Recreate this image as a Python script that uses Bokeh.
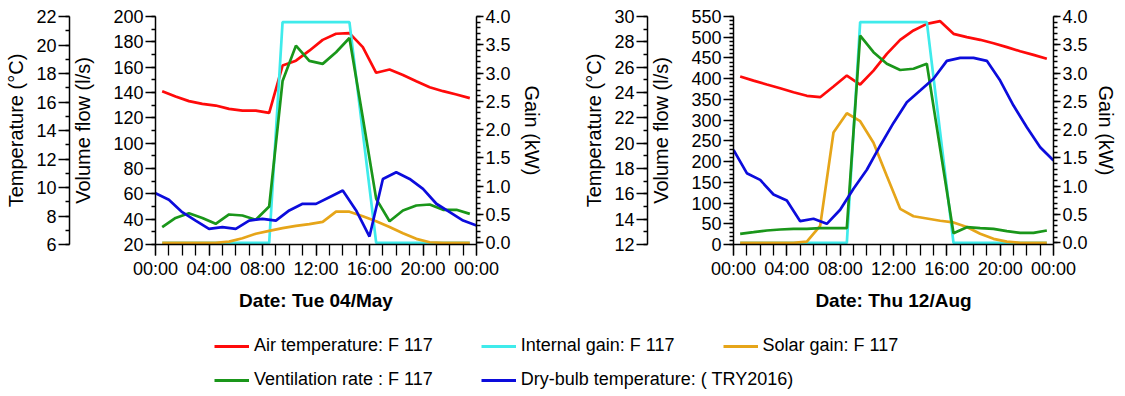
from bokeh.plotting import figure
from bokeh.models import (Range1d, LinearAxis, FixedTicker, Legend, LegendItem, Title,
                          NumeralTickFormatter)
from bokeh.layouts import column, row
from bokeh.embed import file_html
from bokeh.resources import INLINE

# ---------------- data ----------------
HOURS_HALF = [0.5, 1.5, 2.5, 3.5, 4.5, 5.5, 6.5, 7.5, 8.5, 9.5, 10.5, 11.5,
              12.5, 13.5, 14.5, 15.5, 16.5, 17.5, 18.5, 19.5, 20.5, 21.5, 22.5, 23.5]
HOURS_FULL = [0, 1, 2, 3, 4, 5, 6, 7, 8, 9, 10, 11, 12,
              13, 14, 15, 16, 17, 18, 19, 20, 21, 22, 23, 24]
TIME_TICKS = [0, 4, 8, 12, 16, 20, 24]
TIME_MINOR = HOURS_FULL
TIME_LABELS = ["00:00", "04:00", "08:00", "12:00", "16:00", "20:00", "00:00"]

# Panel 1 : Tue 04/May
air_may = [16.76, 16.39, 16.06, 15.87, 15.75, 15.52, 15.40, 15.40, 15.24, 18.56, 18.90, 19.60,
           20.36, 20.79, 20.83, 19.85, 18.05, 18.28, 17.90, 17.46, 17.04, 16.76, 16.53, 16.27]
internal_may = [0, 0, 0, 0, 0, 0, 0, 0, 0, 3.9, 3.9, 3.9,
                3.9, 3.9, 3.9, 1.95, 0, 0, 0, 0, 0, 0, 0, 0]
solar_may = [0, 0, 0, 0, 0, 0.02, 0.08, 0.16, 0.21, 0.26, 0.30, 0.33,
             0.37, 0.55, 0.55, 0.47, 0.38, 0.28, 0.17, 0.07, 0.01, 0, 0, 0]
vent_may = [33.7, 41.0, 44.7, 41.0, 36.3, 43.7, 42.9, 39.5, 50.0, 149.0, 177.0, 165.0,
            162.6, 171.8, 183.0, 120.0, 56.0, 38.4, 46.8, 50.8, 51.6, 47.4, 47.4, 44.2]
drybulb_may = [9.60, 9.14, 8.27, 7.68, 7.10, 7.22, 7.10, 7.68, 7.80, 7.68, 8.39, 8.86, 8.85,
               9.32, 9.79, 8.39, 6.56, 10.60, 11.07, 10.60, 9.90, 8.86, 8.27, 7.68, 7.33]

# Panel 2 : Thu 12/Aug
air_aug = [25.26, 24.94, 24.63, 24.34, 24.02, 23.74, 23.63, 24.47, 25.34, 24.63, 25.73, 27.05,
           28.16, 28.90, 29.42, 29.63, 28.63, 28.37, 28.16, 27.89, 27.58, 27.26, 26.97, 26.66]
internal_aug = [0, 0, 0, 0, 0, 0, 0, 0, 0, 3.9, 3.9, 3.9,
                3.9, 3.9, 3.9, 1.95, 0, 0, 0, 0, 0, 0, 0, 0]
solar_aug = [0, 0, 0, 0, 0, 0.02, 0.30, 1.95, 2.29, 2.15, 1.77, 1.18,
             0.60, 0.47, 0.43, 0.39, 0.36, 0.28, 0.16, 0.07, 0.02, 0, 0, 0]
vent_aug = [25.8, 29.7, 33.8, 36.2, 37.8, 37.8, 39.4, 39.4, 39.4, 504.0, 464.0, 436.0,
            421.0, 424.0, 436.0, 231.0, 27.3, 41.8, 39.4, 37.8, 32.2, 28.2, 28.2, 33.8]
drybulb_aug = [19.47, 17.63, 17.10, 15.95, 15.47, 13.84, 14.03, 13.63, 14.74, 16.40, 17.90, 19.80, 21.60,
               23.23, 24.15, 25.08, 26.50, 26.73, 26.73, 26.50, 24.94, 22.97, 21.26, 19.68, 18.63]

SERIES_NAMES = ["Air temperature: F 117", "Internal gain: F 117", "Solar gain: F 117",
                "Ventilation rate : F 117", "Dry-bulb temperature: ( TRY2016)"]
COLORS = ["#FF0A0A", "#3FEBEB", "#E6A519", "#1A961A", "#0C0CDC"]

FONT = "Liberation Sans"
LW = 2.7


def style_axis(ax, tick_out, minor_out, label_size="18px"):
    ax.axis_line_color = "black"
    ax.axis_line_width = 1.5
    ax.major_tick_line_color = "black"
    ax.major_tick_line_width = 1.3
    ax.minor_tick_line_color = "black"
    ax.minor_tick_line_width = 1.3
    ax.major_tick_in = 0
    ax.minor_tick_in = 0
    ax.major_tick_out = tick_out
    ax.minor_tick_out = minor_out
    ax.major_label_text_font = FONT
    ax.major_label_text_font_size = label_size
    ax.major_label_text_color = "black"
    ax.axis_label_text_font = FONT
    ax.axis_label_text_font_size = "20px"
    ax.axis_label_text_font_style = "normal"
    ax.axis_label_text_color = "black"


def make_panel(date_text, temp_rng, vol_rng, temp_ticks, temp_minor, vol_ticks, vol_minor,
               air, internal, solar, vent, drybulb, fw, left_border, right_border, gain_standoff):
    p = figure(frame_width=fw, frame_height=228,
               x_range=Range1d(0, 24), y_range=Range1d(*vol_rng),
               output_backend="svg", toolbar_location=None,
               min_border_left=left_border, min_border_right=right_border,
               min_border_top=16, min_border_bottom=0)
    # gain range starts a hair below zero so zero-valued lines are not clipped by the frame
    p.extra_y_ranges = {"temp": Range1d(*temp_rng), "gain": Range1d(-0.03, 4.0)}
    p.xgrid.visible = False
    p.ygrid.visible = False
    p.outline_line_color = None
    p.background_fill_color = "white"
    p.border_fill_color = "white"

    # x axis
    xa = p.xaxis[0]
    xa.ticker = FixedTicker(ticks=TIME_TICKS, minor_ticks=TIME_MINOR)
    xa.major_label_overrides = {t: lab for t, lab in zip(TIME_TICKS, TIME_LABELS)}
    style_axis(xa, 11, 11)
    xa.major_label_standoff = 3

    # volume axis (inner left)
    va = p.yaxis[0]
    va.ticker = FixedTicker(ticks=vol_ticks, minor_ticks=vol_minor)
    va.axis_label = "Volume flow (l/s)"
    style_axis(va, 10, 4)
    va.major_label_standoff = 2
    va.axis_label_standoff = 16

    # temperature axis (outer left)
    ta = LinearAxis(y_range_name="temp", axis_label="Temperature (°C)",
                    ticker=FixedTicker(ticks=temp_ticks, minor_ticks=temp_minor))
    style_axis(ta, 11, 4)
    ta.major_label_standoff = 2
    ta.axis_label_standoff = 6
    p.add_layout(ta, "left")

    # gain axis (right)
    gain_ticks = [0, 0.5, 1.0, 1.5, 2.0, 2.5, 3.0, 3.5, 4.0]
    gain_minor = [i / 10 for i in range(41)]
    ga = LinearAxis(y_range_name="gain", axis_label="Gain (kW)",
                    ticker=FixedTicker(ticks=gain_ticks, minor_ticks=gain_minor),
                    formatter=NumeralTickFormatter(format="0.0"))
    style_axis(ga, 7, 4)
    ga.major_label_standoff = 2
    ga.axis_label_standoff = gain_standoff
    p.add_layout(ga, "right")

    p.add_layout(Title(text=date_text, align="center", offset=-6, text_font=FONT,
                       text_font_size="19px", text_font_style="bold", text_color="black",
                       standoff=12), "below")

    p.line(HOURS_HALF, air, color=COLORS[0], line_width=LW, y_range_name="temp")
    p.line(HOURS_HALF, internal, color=COLORS[1], line_width=LW, y_range_name="gain")
    p.line(HOURS_HALF, solar, color=COLORS[2], line_width=LW, y_range_name="gain")
    p.line(HOURS_HALF, vent, color=COLORS[3], line_width=LW)
    p.line(HOURS_FULL, drybulb, color=COLORS[4], line_width=LW, y_range_name="temp")
    return p


p1 = make_panel("Date: Tue 04/May", (6, 22), (20, 200),
                [6, 8, 10, 12, 14, 16, 18, 20, 22], list(range(6, 23)),
                [20, 40, 60, 80, 100, 120, 140, 160, 180, 200], list(range(20, 201, 10)),
                air_may, internal_may, solar_may, vent_may, drybulb_may,
                fw=321, left_border=155, right_border=89, gain_standoff=7)

p2 = make_panel("Date: Thu 12/Aug", (12, 30), (0, 550),
                [12, 14, 16, 18, 20, 22, 24, 26, 28, 30], list(range(12, 31)),
                [0, 50, 100, 150, 200, 250, 300, 350, 400, 450, 500, 550], list(range(0, 551, 10)),
                air_aug, internal_aug, solar_aug, vent_aug, drybulb_aug,
                fw=320, left_border=168, right_border=64, gain_standoff=4)

# legend strip (its helper lines lie outside its visible range)
p3 = figure(width=1117, height=78, x_range=Range1d(-200, -199), y_range=Range1d(-200, -199),
            x_axis_type=None, y_axis_type=None, output_backend="svg",
            toolbar_location=None, min_border=0)
p3.xgrid.visible = False
p3.ygrid.visible = False
p3.outline_line_color = None
legend_src = [(HOURS_HALF, air_may), (HOURS_HALF, internal_may), (HOURS_HALF, solar_may),
              (HOURS_HALF, vent_may), (HOURS_FULL, drybulb_may)]
dummies = [p3.line(x=xs, y=ys, color=c, line_width=3)
           for (xs, ys), c in zip(legend_src, COLORS)]


def make_legend(indices, loc):
    return Legend(items=[LegendItem(label=SERIES_NAMES[i], renderers=[dummies[i]]) for i in indices],
                  orientation="horizontal", location=loc,
                  glyph_width=35, glyph_height=20, label_height=20, label_standoff=5,
                  spacing=48, padding=0, margin=0, border_line_color=None,
                  background_fill_alpha=0, label_text_font=FONT,
                  label_text_font_size="18px", label_text_color="black")


p3.add_layout(make_legend([0, 1, 2], (214, 38)))
p3.add_layout(make_legend([3, 4], (214, 4)))

layout = column(row(p1, p2), p3)
open("out.html", "w").write(file_html(layout, INLINE))
